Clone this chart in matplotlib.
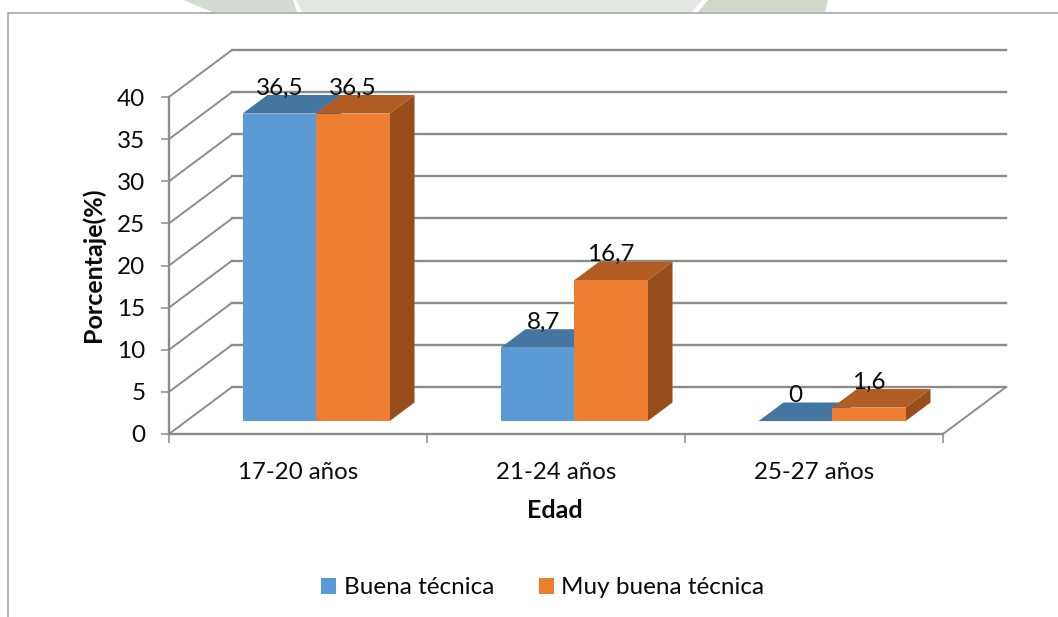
import matplotlib
matplotlib.use("Agg")
import matplotlib.pyplot as plt
from matplotlib.patches import Polygon, Patch

categories = ["17-20 años", "21-24 años", "25-27 años"]
series_names = ["Buena técnica", "Muy buena técnica"]
buena = [36.5, 8.7, 0]
muy_buena = [36.5, 16.7, 1.6]
labels_buena = ["36,5", "8,7", "0"]
labels_muy = ["36,5", "16,7", "1,6"]
y_ticks = [0, 5, 10, 15, 20, 25, 30, 35, 40]

W, H = 1058, 617
GRID = "#8c8c8c"
plt.rcParams["font.family"] = ["Lato", "DejaVu Sans"]
fig = plt.figure(figsize=(W / 100, H / 100), dpi=100, facecolor="white")


def frac_x(px):
    return px / W


def frac_y(py):
    return 1 - py / H


# page background: faint watermark above the chart frame, and the frame
bg = fig.add_axes([0, 0, 1, 1], zorder=0)
bg.set_xlim(0, W)
bg.set_ylim(H, 0)
bg.axis("off")
for pts, col in [
    ([(183, 0), (212, 12), (297, 12), (293, 0)], "#d3dbd2"),
    ([(296, 0), (302, 12), (692, 12), (702, 0)], "#e2e7e3"),
    ([(698, 12), (708, 0), (828, 0), (825, 12)], "#d0d7cb"),
]:
    bg.add_patch(Polygon(pts, closed=True, fc=col, ec="none"))
bg.plot([8, 8, W], [H, 12.5, 12.5], color="#a0a0a0", lw=1.1, solid_capstyle="butt")

# main chart: front plane of the 3-D box
ax = fig.add_axes([frac_x(169), frac_y(434), 774 / W, 337 / H], zorder=1)
ax.patch.set_alpha(0)
ax.set_xlim(0, 3)
ax.set_ylim(0, 40)

DX = 63 / 258          # full box depth, in x data units
DY = 47 / (337 / 40)   # full box depth, in y data units
BAR_D0 = 0.275         # depth of the bar front face
BAR_D1 = 0.67          # depth of the bar back face
BAR_W = 0.285
GROUP_LEFT = 0.218


def proj(x, y, d):
    return (x + DX * d, y + DY * d)


# walls and gridlines
for t in y_ticks:
    ax.plot([0, DX], [t, t + DY], color=GRID, lw=1.4, clip_on=False, zorder=1)
    ax.plot([DX, 3 + DX], [t + DY, t + DY], color=GRID, lw=1.7, clip_on=False, zorder=1)
ax.plot([3, 3 + DX], [0, DY], color=GRID, lw=1.4, clip_on=False, zorder=1)


def draw_bars(values, offset, front, top, side, z):
    xs = [i + GROUP_LEFT + offset + DX * BAR_D0 for i in range(len(values))]
    ax.bar(xs, values, BAR_W, bottom=DY * BAR_D0, align="edge", color=front,
           zorder=z + 0.2, clip_on=False)
    for i, v in enumerate(values):
        x0 = i + GROUP_LEFT + offset
        x1 = x0 + BAR_W
        ax.add_patch(Polygon(
            [proj(x0, v, BAR_D0), proj(x1, v, BAR_D0), proj(x1, v, BAR_D1), proj(x0, v, BAR_D1)],
            closed=True, fc=top, ec="none", zorder=z, clip_on=False))
        ax.add_patch(Polygon(
            [proj(x1, 0, BAR_D0), proj(x1, v, BAR_D0), proj(x1, v, BAR_D1), proj(x1, 0, BAR_D1)],
            closed=True, fc=side, ec="none", zorder=z, clip_on=False))


draw_bars(buena, 0, "#5B9BD5", "#4576A2", "#3A6288", 3)
draw_bars(muy_buena, BAR_W, "#ED7D31", "#B15C22", "#974E1C", 4)

# value labels
nudge_buena = [0, 6, 0]
for series, labs, off, nudges in [
    (buena, labels_buena, 0, nudge_buena),
    (muy_buena, labels_muy, BAR_W, [0, 0, 0]),
]:
    for i, (v, lab) in enumerate(zip(series, labs)):
        x, y = proj(i + GROUP_LEFT + off + BAR_W / 2, v, BAR_D0)
        ax.annotate(lab, (x, y), xytext=(nudges[i] * 0.72, 18.5), textcoords="offset points",
                    ha="center", va="center", fontsize=17.5, color="#0a0a0a", zorder=6,
                    annotation_clip=False)

# axes
for s in ("top", "right"):
    ax.spines[s].set_visible(False)
for s in ("left", "bottom"):
    ax.spines[s].set_color(GRID)
    ax.spines[s].set_linewidth(1.7)
    ax.spines[s].set_zorder(2)
ax.set_yticks(y_ticks)
ax.set_xticks([0, 1, 2, 3])
ax.set_xticklabels([])
ax.set_xticks([0.5, 1.5, 2.5], minor=True)
ax.set_xticklabels(categories, minor=True)
ax.tick_params(axis="x", which="major", length=6.5, width=1.1, color=GRID)
ax.tick_params(axis="x", which="minor", length=0, pad=20.5, labelsize=17.3, labelcolor="#0a0a0a")
ax.tick_params(axis="y", length=6, width=1.1, color=GRID, pad=11, labelsize=17.5, labelcolor="#0a0a0a")
ax.set_xlabel("Edad", fontsize=18, fontweight="bold", color="#0a0a0a")
ax.set_ylabel("Porcentaje(%)", fontsize=18, fontweight="bold", color="#0a0a0a")
ax.xaxis.set_label_coords((555 - 169) / 774, -(510.5 - 434) / 337)
ax.yaxis.set_label_coords((93 - 169) / 774, (434 - 265) / 337)
ax.xaxis.label.set_va("center")
ax.yaxis.label.set_va("center")

handles = [Patch(fc="#5B9BD5", ec="none"), Patch(fc="#ED7D31", ec="none")]
fig.legend(handles, series_names, loc="center", bbox_to_anchor=(frac_x(543), frac_y(588)),
           ncol=2, frameon=False, fontsize=17.5, handlelength=0.62, handleheight=0.62,
           handletextpad=0.3, columnspacing=1.85, labelcolor="#0a0a0a", borderpad=0, borderaxespad=0)

fig.savefig("out.png", dpi=100, facecolor="white")
